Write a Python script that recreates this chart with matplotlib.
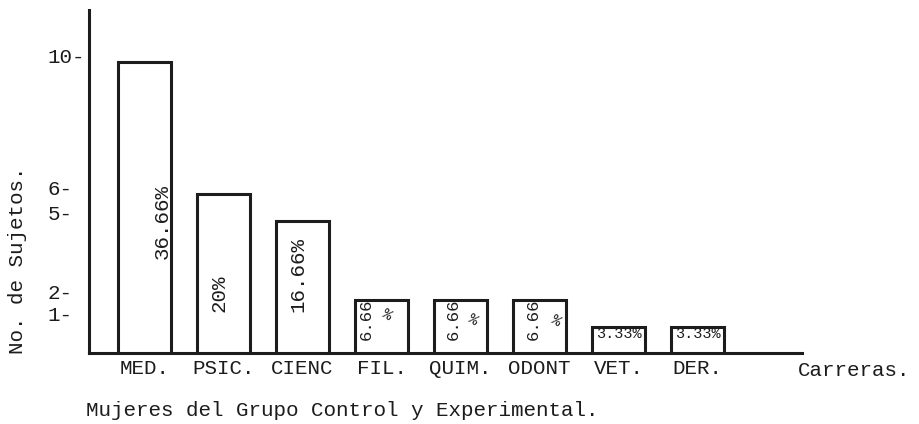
import matplotlib
matplotlib.use("Agg")
import matplotlib.pyplot as plt

# ---- data ----
carreras = ["MED.", "PSIC.", "CIENC", "FIL.", "QUIM.", "ODONT", "VET.", "DER."]
sujetos = [11, 6, 5, 2, 2, 2, 1, 1]
porcentajes = ["36.66%", "20%", "16.66%", "6.66%", "6.66%", "6.66%", "3.33%", "3.33%"]

# typewritten y ticks (placed where the original typist put them)
ytick_labels = ["10-", "6-", "5-", "2-", "1-"]
ytick_pos = [11.25, 6.23, 5.32, 2.34, 1.51]

plt.rcParams["font.family"] = ["Liberation Mono", "DejaVu Sans Mono"]
ink = "#1c1c1c"

fig = plt.figure(figsize=(9.19, 4.24), dpi=100)
ax = fig.add_axes([89 / 919, 1 - 353 / 424, 713 / 919, 343 / 424])

x = list(range(len(carreras)))
ax.bar(x, sujetos, width=0.67, facecolor="white", edgecolor=ink, linewidth=2.2, zorder=3)

ax.set_xlim(-0.703, 8.32)
ax.set_ylim(0, 12.95)

for s in ["top", "right"]:
    ax.spines[s].set_visible(False)
for s in ["left", "bottom"]:
    ax.spines[s].set_linewidth(2.2)
    ax.spines[s].set_color(ink)

ax.set_xticks(x, carreras)
ax.tick_params(axis="x", length=0, pad=4, labelsize=15, labelcolor=ink)
ax.set_yticks(ytick_pos, ytick_labels)
ax.tick_params(axis="y", length=0, pad=30, labelsize=15, labelcolor=ink)
for lab in ax.get_yticklabels():
    lab.set_ha("left")

# percentages typed inside the bars
big = [(0.23, 4.98), (-0.06, 2.26), (-0.06, 2.98)]
for i, (dx, yy) in enumerate(big):
    ax.text(i + dx, yy, porcentajes[i], rotation=90, ha="center", va="center",
            fontsize=15, color=ink, zorder=4)

small = [(-0.2, 0.07, 1.45), (-0.09, 0.16, 1.25), (-0.08, 0.2, 1.2)]
for k, (dnum, dpct, ypct) in enumerate(small):
    i = 3 + k
    ax.text(i + dnum, 1.27, porcentajes[i][:-1], rotation=90, ha="center", va="center",
            fontsize=12.5, color=ink, zorder=4)
    ax.text(i + dpct, ypct, "%", rotation=-30, ha="center", va="center",
            fontsize=11, color=ink, zorder=4)

for i in (6, 7):
    ax.text(i, 0.72, porcentajes[i], ha="center", va="center",
            fontsize=11, color=ink, zorder=4)

fig.text(18 / 919, 1 - 260 / 424, "No. de Sujetos.", rotation=90,
         ha="center", va="center", fontsize=15, color=ink)
fig.text(798 / 919, 1 - 370 / 424, "Carreras.", ha="left", va="center",
         fontsize=15, color=ink)
fig.text(86 / 919, 1 - 410 / 424, "Mujeres del Grupo Control y Experimental.",
         ha="left", va="center", fontsize=15, color=ink)

fig.savefig("out.png", dpi=100, facecolor="white")
